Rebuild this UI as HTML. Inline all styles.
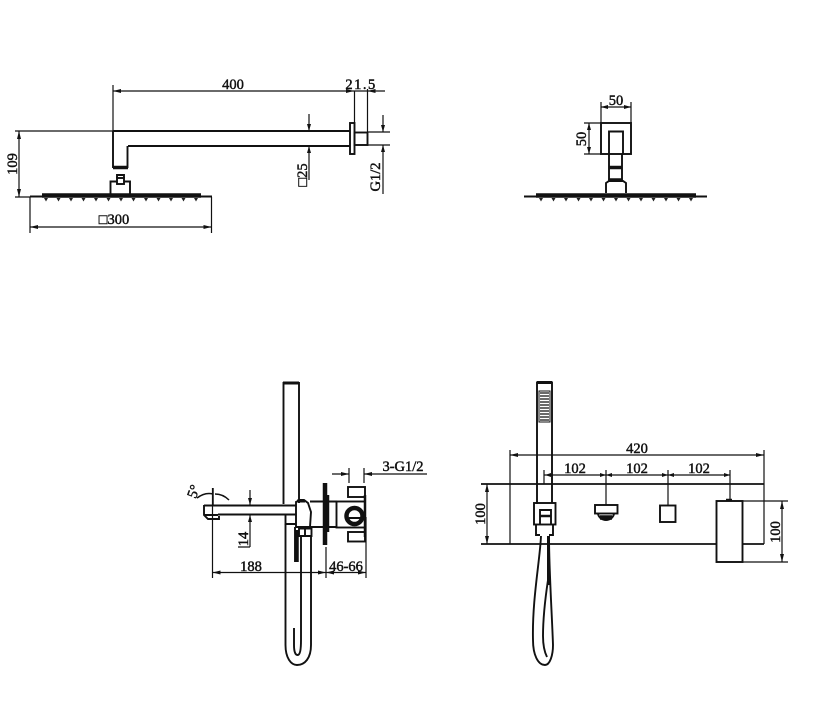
<!DOCTYPE html>
<html><head><meta charset="utf-8"><style>
html,body{margin:0;padding:0;background:#fff}
svg{display:block}
text{font-family:"Liberation Serif",serif;font-size:14.500px;fill:#111;stroke:#111;stroke-width:.45px;text-anchor:middle}
</style></head><body>
<svg width="817" height="715" viewBox="0 0 817 715" xmlns="http://www.w3.org/2000/svg">
<defs>
<g id="nz"><path d="M-2 0h4l-2 3.500z" fill="#222"/></g>
<g id="nozzles">
<use href="#nz" x="0"/><use href="#nz" x="12.500"/><use href="#nz" x="25"/><use href="#nz" x="37.500"/><use href="#nz" x="50"/><use href="#nz" x="62.500"/><use href="#nz" x="75"/><use href="#nz" x="87.500"/><use href="#nz" x="100"/><use href="#nz" x="112.500"/><use href="#nz" x="125"/><use href="#nz" x="137.500"/><use href="#nz" x="150"/>
</g>
</defs>
<rect width="817" height="715" fill="#fff"/>
<g fill="none" stroke="#111" stroke-width="1.200">
<!-- top-left: dims -->
<path d="M113 85V131M113 91H385M354.500 91V123M367.500 89V132"/>
<path d="M15 131H113M19 131V197M15 197H30"/>
<path d="M30 197V233M211.500 197V233M30 227H212"/>
<path d="M309 114V131M309 146V180M383 115V132M383 145V194M367 132H390M367 145H390"/>
<!-- top-left: arm -->
<g stroke-width="1.900">
<path d="M113 131H350M128 146H350M113 131V168M127.500 146V168"/>
<rect x="350" y="123" width="4.500" height="31"/>
<rect x="354.500" y="132.500" width="13" height="12.500"/>
<path d="M117 178V175H124V178M110.500 195V181.500H117M124 181.500H130V195"/>
<rect x="117" y="178" width="7" height="6"/>
</g>
<path d="M113 167.500H128" stroke-width="3.500"/>
<path d="M42 195.500H201" stroke-width="4.500"/>
<path d="M30 196.500H212" stroke-width="2"/>
<!-- top-right -->
<path d="M601 102V123M631 102V123M601 107H631M584 123H601M584 154H601M589 123V154"/>
<g stroke-width="1.900">
<rect x="601" y="123" width="30" height="31"/>
<path d="M609 154V131.500H623V154M609 154V181M622 154V181M606 193V183L609 181H623L626 183V193"/>
</g>
<path d="M609 167.500H622" stroke-width="3.500"/>
<path d="M609 180H622" stroke-width="3.500"/>
<path d="M536 195.500H696" stroke-width="4.500"/>
<path d="M524 196.500H707" stroke-width="2"/>
<!-- bottom-left dims -->
<path d="M212.500 488V578M326 547V578M366 517V578M212 572.500H366M250 490V505M250 515V547M238 547H250"/>
<path d="M349 468V483M364 468V483M332 474H349M364 474H427"/>
<path d="M197 498Q205 492 213 494M215 494Q223 494 229 500M213 488V505" stroke-width="1.500"/>
<!-- bottom-left body -->
<g stroke-width="1.900">
<path d="M283.500 504V383H299V503"/>
<path d="M204 505.500H296M218 514.500H296M204 505V515L208 519H219V516M204 515H218"/>
<path d="M285.500 514V524H296"/>
<path d="M296 527V502L300 500H304L308 503L311 512L310 527H296"/>
<path d="M310 501.500H323M310 527H323"/>
<path d="M329 501.500H337M329 527H337"/>
<rect x="336.500" y="501.500" width="28.500" height="26"/>
<rect x="348" y="487" width="17" height="10"/>
<rect x="348" y="532" width="17" height="9.500"/>
<path d="M299 528.500H311.500V536H299ZM305 528.500V536"/>
<path d="M285.500 524V645C285.500 658 291 665 297 665C305 665 311 658 311 645V536"/>
<path d="M294 628V645C294 652 295.500 655 297.500 655C300 655 301 650 301 640V536"/>
<path d="M295 527V562"/>
</g>
<path d="M297 530V562" stroke-width="3.500"/>
<path d="M325 483V545" stroke-width="4.500"/>
<path d="M328 495V532" stroke-width="2.500"/>
<circle cx="354.500" cy="516" r="8" stroke-width="4.500"/>
<path d="M349 518H361" stroke-width="2"/>
<path d="M365 495V537" stroke-width="2.500"/>
<path d="M283 383H299" stroke-width="3"/>
<path d="M297 501H305" stroke-width="3"/>
<!-- bottom-right wall + dims -->
<path d="M481 484H764M481 544H716M743 544H764" stroke-width="1.700"/>
<path d="M510 450V544M764 450V544M510 455H764"/>
<path d="M544 470V484M544 475H730M606 470V505M668 470V505M730 470V500"/>
<path d="M487 484V544M743 501H788M743 562H788M782 501V562"/>
<!-- bottom-right handset -->
<g stroke-width="1.900">
<path d="M537 504V382.500H552V503"/>
<rect x="539" y="391" width="11" height="31" stroke-width="1"/>
<rect x="534" y="503" width="21.500" height="21.500"/>
<path d="M540 525V510H551V525"/>
<path d="M536 529V535H540M553 529V535H549M536 525V529M553 525V529"/>
<path d="M541 536C540 560 532 600 533 640C533 655 538 665 545 665C550 665 553 655 553 645C552 615 549 570 549 536"/>
<path d="M548 580C545 600 543 620 543 636C543 647 545 653 547 657"/>
<rect x="595" y="505" width="22.500" height="8.500"/>
<path d="M598 514C600 522 612 522 614 514"/>
<rect x="660" y="505.500" width="15.500" height="16.500"/>
<rect x="716.500" y="501" width="26" height="61"/>
</g>
<path d="M537 382.500H552" stroke-width="3"/>
<path d="M548.500 536V585" stroke-width="3"/>
<path d="M540 516H551" stroke-width="2.500"/>
<path d="M600 517.500H612" stroke-width="4.500"/>
<path d="M726 500H732" stroke-width="2.500"/>
<path d="M540 393H549M540 396H549M540 399H549M540 402H549M540 405H549M540 408H549M540 411H549M540 414H549M540 417H549M540 420H549" stroke-width="1.200"/>
</g>
<!-- nozzles -->
<use href="#nozzles" x="46" y="198"/>
<use href="#nozzles" x="541" y="198"/>
<!-- arrowheads -->
<g fill="#111" stroke="none">
<path d="M113 91l8-2v4zM354 91l-8-2v4zM367.500 91l8-2v4z"/>
<path d="M19 131l-2 8h4zM19 197l-2-8h4z"/>
<path d="M30 227l8-2v4zM211.500 227l-8-2v4z"/>
<path d="M309 131l-2-7h4zM309 146l-2 7h4zM383 132l-2-7h4zM383 145l-2 7h4z"/>
<path d="M601 107l7-2v4zM631 107l-7-2v4zM589 123l-2 7h4zM589 154l-2-7h4z"/>
<path d="M212.500 572.500l8-2v4zM326 572.500l-8-2v4zM326 572.500l8-2v4zM366 572.500l-8-2v4z"/>
<path d="M250 505l-2-7h4zM250 515l-2 7h4zM349 474l-8-2v4zM364 474l8-2v4z"/>
<path d="M510 455l8-2v4zM764 455l-8-2v4z"/>
<path d="M545 475l6-2v4zM606 475l-6-2v4zM606 475l6-2v4zM668 475l-6-2v4zM668 475l6-2v4zM730 475l-6-2v4z"/>
<path d="M487 484l-2 8h4zM487 544l-2-8h4zM782 501l-2 8h4zM782 562l-2-8h4z"/>
</g>
<!-- labels -->
<text x="233" y="89">400</text>
<text x="361" y="89" letter-spacing="1.500">21.5</text>
<text x="114" y="224">□300</text>
<text transform="translate(17 164) rotate(-90)">109</text>
<text transform="translate(307 175) rotate(-90)">□25</text>
<text transform="translate(380 177) rotate(-90)">G1/2</text>
<text x="616" y="105">50</text>
<text transform="translate(586 139) rotate(-90)">50</text>
<text x="403" y="471">3-G1/2</text>
<text transform="translate(198 493) rotate(-70)">5°</text>
<text transform="translate(248 539) rotate(-90)">14</text>
<text x="251" y="571">188</text>
<text x="346" y="571">46-66</text>
<text x="637" y="453">420</text>
<text x="575" y="473">102</text>
<text x="637" y="473">102</text>
<text x="699" y="473">102</text>
<text transform="translate(485 514) rotate(-90)">100</text>
<text transform="translate(780 532) rotate(-90)">100</text>
</svg>
</body></html>
